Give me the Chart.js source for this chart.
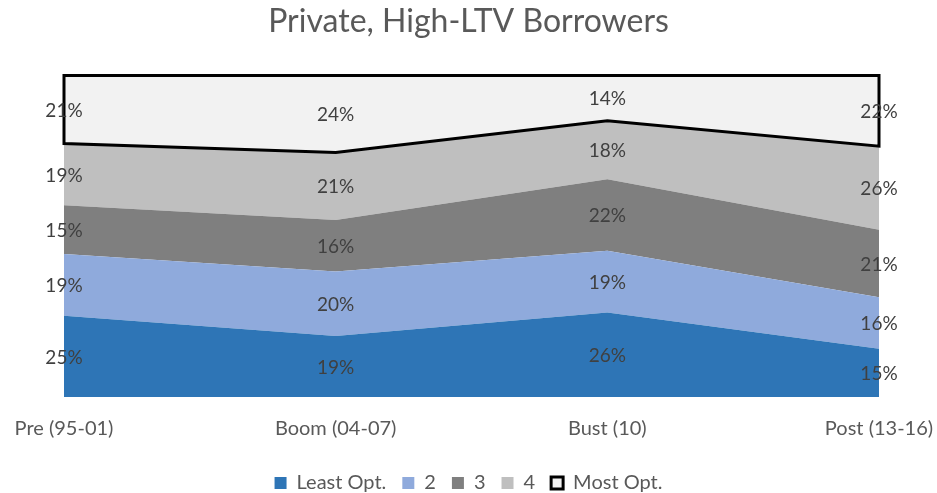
<!DOCTYPE html>
<html>
<head>
<meta charset="utf-8">
<script src="https://cdn.jsdelivr.net/npm/chart.js@4.4.0/dist/chart.umd.min.js"></script>
<style>
  html, body { margin: 0; padding: 0; background: #fff; }
  #wrap { width: 937px; height: 493px; }
</style>
</head>
<body>
<div id="wrap"><canvas id="myChart"></canvas></div>
<script>
// periods on the x axis
const periods = ["Pre (95-01)", "Boom (04-07)", "Bust (10)", "Post (13-16)"];
// share of borrowers in each optimality group (%)
const leastOpt = [25, 19, 26, 15];
const group2 = [19, 20, 19, 16];
const group3 = [15, 16, 22, 21];
const group4 = [19, 21, 18, 26];
const mostOpt = [21, 24, 14, 22];

const seriesNames = ["Least Opt.", "2", "3", "4", "Most Opt."];
const seriesValues = [leastOpt, group2, group3, group4, mostOpt];
const fills = ["#2e75b6", "#8faadc", "#7f7f7f", "#bfbfbf", "#f2f2f2"];

// 100% stacked: scale each column to its total
const totals = periods.map((p, i) => seriesValues.reduce((s, arr) => s + arr[i], 0));

const FONT = "Lato, 'Open Sans', sans-serif";

const datasets = seriesValues.map(function (vals, k) {
  const last = k === seriesValues.length - 1;
  return {
    label: seriesNames[k],
    raw: vals,
    data: vals.map((v, i) => v / totals[i] * 100),
    backgroundColor: fills[k],
    borderColor: last ? "#000" : fills[k],
    borderWidth: last ? 3 : 0,
    fill: k === 0 ? "origin" : "-1",
    pointRadius: 0,
    tension: 0,
    clip: false
  };
});

// outline round the top band and the percent labels
const bandPlugin = {
  id: "bands",
  afterDatasetsDraw(chart) {
    const ctx = chart.ctx;
    const yScale = chart.scales.y;
    const top = chart.getDatasetMeta(4).data;
    const below = chart.getDatasetMeta(3).data;
    ctx.save();
    ctx.strokeStyle = "#000";
    ctx.lineWidth = 3;
    ctx.lineJoin = "miter";
    ctx.beginPath();
    top.forEach((pt, i) => { if (i === 0) ctx.moveTo(pt.x, pt.y); else ctx.lineTo(pt.x, pt.y); });
    for (let i = below.length - 1; i >= 0; i--) ctx.lineTo(below[i].x, below[i].y);
    ctx.closePath();
    ctx.stroke();

    ctx.fillStyle = "#404040";
    ctx.font = "19px " + FONT;
    ctx.textAlign = "center";
    ctx.textBaseline = "middle";
    periods.forEach(function (p, i) {
      let base = 0;
      chart.data.datasets.forEach(function (ds) {
        const v = ds.data[i];
        const x = chart.getDatasetMeta(0).data[i].x;
        const y = (yScale.getPixelForValue(base) + yScale.getPixelForValue(base + v)) / 2;
        ctx.fillText(ds.raw[i] + "%", x, y + 1);
        base += v;
      });
    });
    ctx.restore();
  }
};

const chart = new Chart(document.getElementById("myChart"), {
  type: "line",
  data: { labels: periods, datasets: datasets },
  options: {
    responsive: true,
    maintainAspectRatio: false,
    animation: false,
    layout: { padding: { left: 0, right: 0, top: 2, bottom: -10 } },
    plugins: {
      title: {
        display: true,
        text: "Private, High-LTV Borrowers",
        color: "#595959",
        font: { family: FONT, size: 32, weight: "normal" },
        padding: { top: 0, bottom: 35 }
      },
      legend: {
        position: "bottom",
        labels: {
          color: "#595959",
          font: { family: FONT, size: 20 },
          boxWidth: 12,
          boxHeight: 12,
          padding: 16
        }
      },
      tooltip: { enabled: false }
    },
    scales: {
      x: {
        offset: false,
        grid: { display: false },
        border: { display: false },
        ticks: { color: "#595959", font: { family: FONT, size: 20 }, padding: 12, maxRotation: 0 },
        afterFit(scale) {
          scale.paddingLeft = 64;
          scale.paddingRight = 58;
          scale.height = 60;
        }
      },
      y: {
        display: false,
        stacked: true,
        min: 0,
        max: 100
      }
    }
  },
  plugins: [bandPlugin]
});
</script>
</body>
</html>
